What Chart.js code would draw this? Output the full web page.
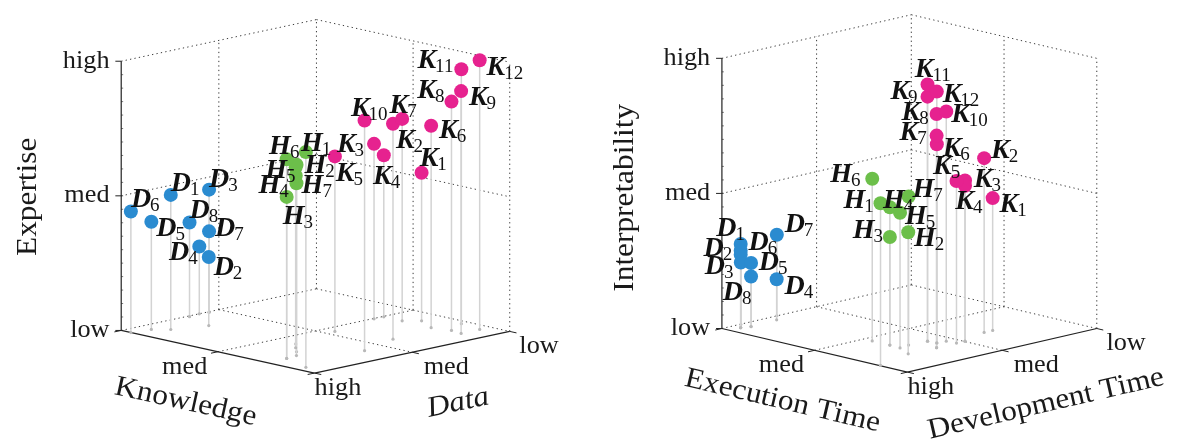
<!DOCTYPE html>
<html>
<head>
<meta charset="utf-8">
<script src="https://cdn.jsdelivr.net/npm/chart.js@4.4.1/dist/chart.umd.min.js"></script>
<style>
  html, body { margin: 0; padding: 0; background: #fff; }
  #wrap { position: relative; width: 1177px; height: 443px; }
  canvas { position: absolute; top: 0; }
</style>
</head>
<body>
<div id="wrap">
  <canvas id="left" width="588" height="443" style="left:0"></canvas>
  <canvas id="right" width="589" height="443" style="left:588px"></canvas>
</div>
<script>
// levels on every axis: 0 = low, 1 = med, 2 = high
const levels = ['low', 'med', 'high'];

// ---- left chart: Knowledge / Data / Expertise ----
const leftDKnow = [0.23, 0.33, 0.01, 0.00, 0.13, 0.10, 0.01, 0.02];
const leftDData = [1.72, 1.43, 1.11, 1.20, 1.82, 2.00, 1.11, 1.32];
const leftDExp  = [1.00, 0.51, 0.91, 0.50, 0.80, 0.90, 0.60, 0.70];

const leftHKnow = [1.82, 1.30, 1.51, 1.49, 1.40, 1.51, 1.21];
const leftHData = [1.91, 1.50, 1.80, 1.68, 1.59, 1.80, 1.41];
const leftHExp  = [1.60, 1.34, 1.20, 1.28, 1.39, 1.48, 1.25];

const leftKKnow = [1.30, 1.59, 1.01, 1.01, 1.11, 1.51, 1.20, 1.68, 1.80, 1.72, 1.57, 1.80];
const leftKData = [0.21, 0.79, 0.41, 0.31, 0.91, 0.32, 0.31, 0.28, 0.30, 1.21, 0.07, 0.11];
const leftKExp  = [1.10, 1.60, 1.30, 1.20, 1.30, 1.50, 1.50, 1.70, 1.80, 1.71, 1.89, 2.00];

// ---- right chart: Execution Time / Development Time / Interpretability ----
const rightDExec = [0.08, 0.08, 0.01, 0.09, 0.11, 0.08, 0.00, 0.11];
const rightDDev  = [1.88, 1.88, 1.81, 1.51, 1.80, 1.88, 1.42, 1.80];
const rightDInt  = [0.62, 0.54, 0.46, 0.30, 0.47, 0.57, 0.60, 0.37];

const rightHExec = [1.70, 1.58, 1.28, 1.28, 1.40, 1.09, 1.38];
const rightHDev  = [1.99, 1.58, 1.48, 1.48, 1.49, 1.48, 1.38];
const rightHInt  = [1.20, 0.90, 0.80, 1.02, 1.00, 1.20, 1.10];

const rightKExec = [1.49, 1.49, 1.59, 1.59, 1.59, 1.48, 1.59, 1.59, 1.39, 1.49, 1.39, 1.48];
const rightKDev  = [0.60, 0.69, 0.99, 0.99, 1.08, 1.18, 1.29, 1.29, 1.19, 1.09, 1.19, 1.18];
const rightKInt  = [0.98, 1.29, 1.19, 1.15, 1.20, 1.47, 1.57, 1.73, 1.81, 1.70, 1.90, 1.86];

// label offsets from the marker (layout only)
const leftDOff = [[0,-13],[5,9],[0,-12],[-31,5],[5,5],[0,-14],[6,-5],[0,-14]];
const leftHOff = [[-5,-10],[9,-3],[-4,19],[-39,1],[-32,5],[-18,-15],[6,9]];
const leftKOff = [[-2,-16],[3,16],[-38,-1],[-11,20],[1,16],[8,3],[-13,-15],[-35,-13],[8,5],[-14,-14],[-45,-11],[7,6]];
const rightDOff = [[-25,-17],[-38,-8],[-37,3],[8,6],[8,-2],[8,-10],[8,-12],[-29,15]];
const rightHOff = [[-38,-4],[6,5],[-38,-8],[-7,-9],[5,2],[-43,-6],[4,-9]];
const rightKOff = [[7,5],[7,-9],[9,-2],[-10,15],[-24,-17],[6,3],[-38,-5],[-36,-3],[-38,-7],[5,2],[-13,-17],[6,1]];

const colors = { D: '#2a8bd0', H: '#6cbf4a', K: '#e6228f' };
const SERIF = '"Liberation Serif", "DejaVu Serif", serif';

function project(p, k, d, e) {
  return {
    x: p.ox + k * p.kx + (2 - d) * p.dx,
    y: p.oy + k * p.ky + (2 - d) * p.dy - e * p.ez
  };
}

function txt(ctx, s, x, y, font, align, rot, sx) {
  ctx.save();
  ctx.translate(x, y);
  ctx.rotate(rot * Math.PI / 180);
  ctx.scale(sx, 1);
  ctx.font = font;
  ctx.textAlign = align;
  ctx.textBaseline = 'middle';
  ctx.fillStyle = '#1a1a1a';
  ctx.fillText(s, 0, 0);
  ctx.restore();
}

function drawLabel(ctx, letter, sub, x, y) {
  ctx.save();
  ctx.fillStyle = '#111';
  ctx.textAlign = 'left';
  ctx.textBaseline = 'alphabetic';
  ctx.font = 'bold italic 28px ' + SERIF;
  const base = y + 9;
  ctx.fillText(letter, x, base);
  const w = ctx.measureText(letter).width;
  ctx.font = '19px ' + SERIF;
  ctx.fillText(sub, x + w - 1, base + 4);
  ctx.restore();
}

function buildChart(id, width, proj, series, titles) {
  const P = (k, d, e) => project(proj, k, d, e);
  const datasets = [];
  const seg = (a, b, color, dash, order, lw) => datasets.push({
    data: [a, b], showLine: true, borderColor: color, borderWidth: lw,
    borderDash: dash, pointRadius: 0, order: order, clip: false
  });

  // dotted box and grid
  const dot = [1.3, 3.2];
  const gc = '#3a3a3a';
  [0, 1, 2].forEach(k => seg(P(k, 0, 0), P(k, 0, 2), gc, dot, 4, 1));
  seg(P(0, 1, 0), P(0, 1, 2), gc, dot, 4, 1);
  [1, 2].forEach(e => {
    seg(P(0, 0, e), P(2, 0, e), gc, dot, 4, 1);
    seg(P(0, 2, e), P(0, 0, e), gc, dot, 4, 1);
  });
  seg(P(0, 0, 0), P(2, 0, 0), gc, dot, 4, 1);
  seg(P(0, 2, 0), P(0, 0, 0), gc, dot, 4, 1);
  seg(P(1, 2, 0), P(1, 0, 0), gc, dot, 4, 1);
  seg(P(0, 1, 0), P(2, 1, 0), gc, dot, 4, 1);

  // solid axes with ticks
  const ac = '#222';
  seg(P(0, 2, 0), P(0, 2, 2), ac, [], 2, 1.2);
  seg(P(0, 2, 0), P(2, 2, 0), ac, [], 2, 1.2);
  seg(P(2, 2, 0), P(2, 0, 0), ac, [], 2, 1.2);
  [0, 1, 2].forEach(v => {
    const z = P(0, 2, v);
    seg({ x: z.x - 6, y: z.y }, z, ac, [], 2, 1);
    seg(P(v, 2, 0), P(v, 2.07, 0), ac, [], 2, 1);
    seg(P(2, v, 0), P(2.07, v, 0), ac, [], 2, 1);
  });
  for (let i = 1; i < 20; i++) {
    const z = P(0, 2, i / 10);
    seg(z, { x: z.x + 2, y: z.y }, '#555', [], 2, 0.8);
  }

  // stems
  series.forEach(s => {
    s.k.forEach((kv, i) => {
      datasets.push({
        data: [P(kv, s.d[i], s.e[i]), P(kv, s.d[i], 0)],
        showLine: true, borderColor: '#d3d3d3', borderWidth: 1.5,
        pointRadius: [0, 1.6], pointBackgroundColor: '#b8b8b8', pointBorderWidth: 0,
        order: 1, clip: false
      });
    });
  });

  // markers
  series.forEach(s => {
    datasets.push({
      data: s.k.map((kv, i) => P(kv, s.d[i], s.e[i])),
      showLine: false, pointRadius: 7, pointHoverRadius: 7,
      pointBackgroundColor: colors[s.letter], pointBorderWidth: 0,
      order: 0, clip: false
    });
  });

  const textPlugin = {
    id: 'texts' + id,
    afterDatasetsDraw(chart) {
      const ctx = chart.ctx;
      const X = v => chart.scales.x.getPixelForValue(v);
      const Y = v => chart.scales.y.getPixelForValue(v);
      const tickFont = '25px ' + SERIF;
      // vertical axis tick labels
      levels.forEach((t, i) => {
        const z = P(0, 2, i);
        txt(ctx, t, X(z.x - 12), Y(z.y), tickFont, 'right', 0, 1.05);
      });
      // first floor axis: only med shown
      const km = P(1, 2, 0);
      txt(ctx, levels[1], X(km.x - 34), Y(km.y + 16), tickFont, 'center', 0, 1.05);
      // second floor axis
      const dDx = [30, 35, 24], dDy = [15, 15.5, 16];
      levels.forEach((t, i) => {
        const q = P(2, i, 0);
        txt(ctx, t, X(q.x + dDx[i]), Y(q.y + dDy[i]), tickFont, 'center', 0, 1.05);
      });
      // axis titles
      titles.forEach(t => {
        const f = (t.italic ? 'italic ' : '') + '29px ' + SERIF;
        txt(ctx, t.text, X(t.x), Y(t.y), f, 'center', t.rot, 1.08);
      });
      // point labels
      series.forEach(s => {
        s.k.forEach((kv, i) => {
          const q = P(kv, s.d[i], s.e[i]);
          drawLabel(ctx, s.letter, String(i + 1), X(q.x + s.off[i][0]), Y(q.y + s.off[i][1]));
        });
      });
    }
  };

  return new Chart(document.getElementById(id), {
    type: 'scatter',
    data: { datasets },
    options: {
      responsive: false,
      animation: false,
      devicePixelRatio: 1,
      layout: { padding: 0 },
      events: [],
      plugins: { legend: { display: false }, tooltip: { enabled: false } },
      scales: {
        x: { type: 'linear', display: false, min: 0, max: width },
        y: { type: 'linear', display: false, min: 0, max: 443, reverse: true }
      }
    },
    plugins: [textPlugin]
  });
}

buildChart('left', 588,
  { ox: 117, oy: 334, kx: 99, ky: 22, dx: 100, dy: -21.5, ez: 139 },
  [
    { letter: 'D', k: leftDKnow, d: leftDData, e: leftDExp, off: leftDOff },
    { letter: 'H', k: leftHKnow, d: leftHData, e: leftHExp, off: leftHOff },
    { letter: 'K', k: leftKKnow, d: leftKData, e: leftKExp, off: leftKOff }
  ],
  [
    { text: 'Expertise', x: 22, y: 196, rot: -90 },
    { text: 'Knowledge', x: 183, y: 408, rot: 12.5 },
    { text: 'Data', x: 462, y: 409, rot: -12, italic: true }
  ]);

buildChart('right', 589,
  { ox: 130, oy: 332, kx: 95, ky: 22.5, dx: 97, dy: -22.5, ez: 139.5 },
  [
    { letter: 'D', k: rightDExec, d: rightDDev, e: rightDInt, off: rightDOff },
    { letter: 'H', k: rightHExec, d: rightHDev, e: rightHInt, off: rightHOff },
    { letter: 'K', k: rightKExec, d: rightKDev, e: rightKInt, off: rightKOff }
  ],
  [
    { text: 'Interpretability', x: 31, y: 197, rot: -90 },
    { text: 'Execution Time', x: 192, y: 407, rot: 13.3 },
    { text: 'Development Time', x: 462, y: 410, rot: -13 }
  ]);
</script>
</body>
</html>
